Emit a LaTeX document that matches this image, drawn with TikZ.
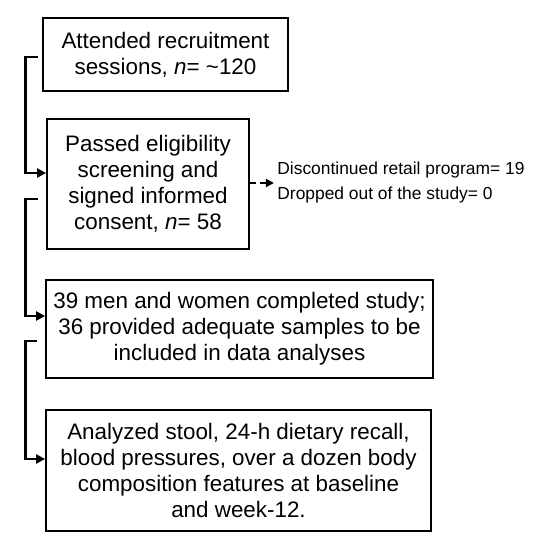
\documentclass[tikz,border=0pt]{standalone}
\usepackage{fontspec}
\setmainfont{Liberation Sans}
\usetikzlibrary{arrows.meta,calc}
\begin{document}
\begin{tikzpicture}
[x=0.5pt,y=-0.5pt,
every node/.style={font=\fontsize{11.2}{13}\selectfont,align=center,inner sep=0pt},
stage/.style={draw,line width=0.9pt,minimum width=#1},
link/.style={line width=1.4pt,-{Triangle[length=4.5pt,width=4.5pt]}},
drop/.style={line width=1.1pt,dashed,dash pattern=on 3pt off 2pt,-{Triangle[length=4pt,width=4pt]}},
note/.style={font=\fontsize{8.7}{10}\selectfont,anchor=west}]
\useasboundingbox (0,0) rectangle (536,550);
\node[stage=122.5pt,minimum height=36.5pt] (recruit) at (165.5,54.5)
  {Attended recruitment\\sessions, \textit{n}= \textasciitilde120};
\node[stage=101pt,minimum height=65pt] (screen) at (148,184)
  {Passed eligibility\\screening and\\signed informed\\consent, \textit{n}= 58};
\node[stage=193.5pt,minimum height=49pt] (complete) at (239.5,329)
  {39 men and women completed study;\\36 provided adequate samples to be\\included in data analyses};
\node[stage=192.5pt,minimum height=60.5pt] (analyze) at (238.5,470.5)
  {Analyzed stool, 24-h dietary recall,\\blood pressures, over a dozen body\\composition features at baseline\\and week-12.};
% brackets on the left
\draw[link] ($(recruit.west)+(-4,2.5)$) -- ++(-13,0) |- ($(screen.west)+(0,-11)$);
\draw[link] ($(screen.west)+(-8,15)$) -- ++(-13,0) |- ($(complete.west)+(0,-13)$);
\draw[link] ($(complete.west)+(-8,12)$) -- ++(-12,0) |- ($(analyze.west)+(0,-11.5)$);
% dropouts
\coordinate (out) at ($(screen.east)+(24,-1)$);
\draw[drop] ($(screen.east)+(0,-1)$) -- (out);
\node[note] (retail) at (277,170) {Discontinued retail program= 19};
\node[note] (quit) at (277,195) {Dropped out of the study= 0};
\end{tikzpicture}
\end{document}
